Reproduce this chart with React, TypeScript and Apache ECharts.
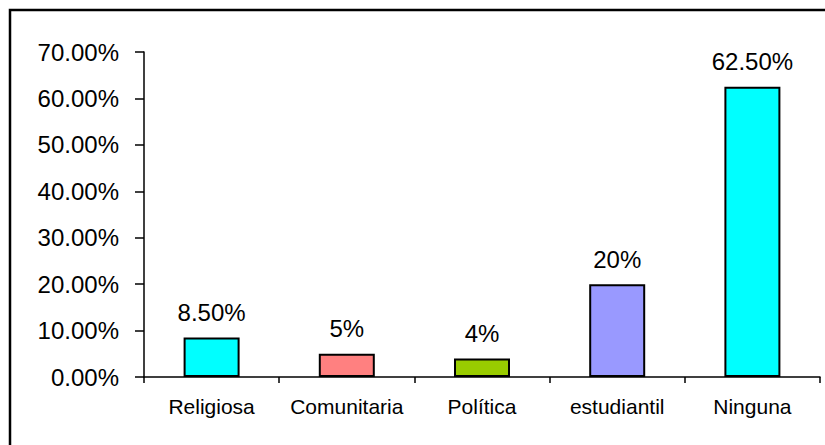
import React, { useEffect, useRef } from "react";
import * as echarts from "echarts";

const categories = ["Religiosa", "Comunitaria", "Política", "estudiantil", "Ninguna"];
const values = [8.5, 5, 4, 20, 62.5];
const valueLabels = ["8.50%", "5%", "4%", "20%", "62.50%"];
const barColors = ["#00FFFF", "#FF8080", "#99CC00", "#9999FF", "#00FFFF"];

export default function App() {
  const ref = useRef<HTMLDivElement>(null);
  useEffect(() => {
    if (!ref.current) return;
    const chart = echarts.init(ref.current, null, { renderer: "svg" });
    const font = "'Liberation Sans', Arial, sans-serif";
    chart.setOption({
      animation: false,
      backgroundColor: "#ffffff",
      textStyle: { fontFamily: font, color: "#000" },
      grid: { left: 144, right: 5, top: 52, bottom: 68, containLabel: false },
      graphic: [
        {
          type: "rect",
          shape: { x: 10, y: 10, width: 900, height: 500 },
          style: { fill: "none", stroke: "#000", lineWidth: 2.5 },
          silent: true,
        },
      ],
      xAxis: {
        type: "category",
        data: categories,
        axisLine: { show: true, lineStyle: { color: "#000", width: 1.5 } },
        axisTick: { show: true, length: 6, lineStyle: { color: "#000", width: 1.5 } },
        axisLabel: { color: "#000", fontSize: 21, fontFamily: font, margin: 19, interval: 0 },
        splitLine: { show: false },
      },
      yAxis: {
        type: "value",
        min: 0,
        max: 70,
        interval: 10,
        axisLine: { show: true, lineStyle: { color: "#000", width: 1.5 } },
        axisTick: { show: true, length: 9, lineStyle: { color: "#000", width: 1.5 } },
        axisLabel: {
          color: "#000",
          fontSize: 24,
          fontFamily: font,
          margin: 25,
          formatter: (v: number) => v.toFixed(2) + "%",
        },
        splitLine: { show: false },
      },
      series: [
        {
          type: "bar",
          barWidth: 56,
          data: values.map((v, i) => ({
            value: v,
            itemStyle: { color: barColors[i], borderColor: "#000", borderWidth: 2 },
          })),
          label: {
            show: true,
            position: "top",
            distance: 13,
            color: "#000",
            fontSize: 24,
            fontFamily: font,
            formatter: (p: any) => valueLabels[p.dataIndex],
          },
        },
      ],
    });
    return () => chart.dispose();
  }, []);
  return (
    <div
      ref={ref}
      style={{ position: "fixed", left: 0, top: 0, width: 825, height: 445 }}
    />
  );
}
